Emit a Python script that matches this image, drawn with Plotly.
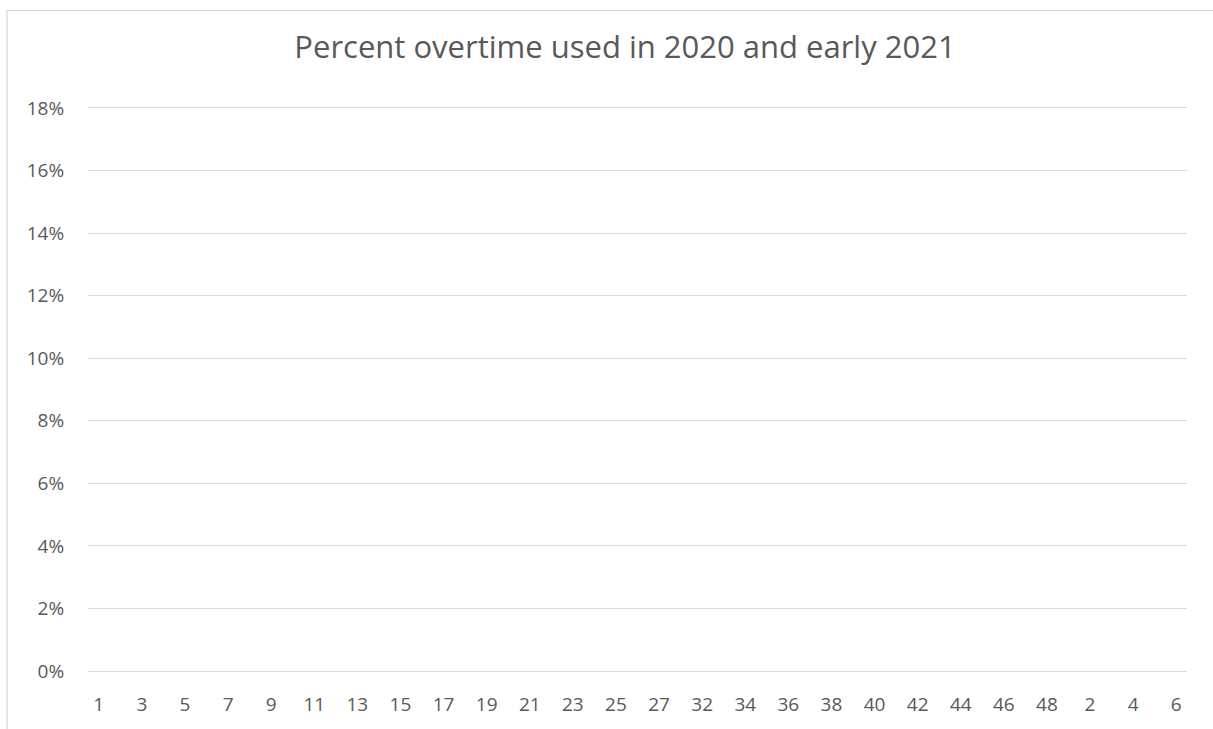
import plotly.graph_objects as go

# Week numbers: 2020 weeks followed by early 2021 weeks
weeks = [str(w) for w in range(1, 28)] + ["31"] + [str(w) for w in range(32, 49)] + [str(w) for w in range(1, 7)]
# Percent overtime per week (no values recorded)
overtime_pct = [None] * len(weeks)
# Axis ticks
y_ticks = [0, 0.02, 0.04, 0.06, 0.08, 0.10, 0.12, 0.14, 0.16, 0.18]

positions = list(range(len(weeks)))
label_pos = positions[::2]
label_txt = weeks[::2]

W, H = 1213, 729
ML, MR, MT, MB = 88, 26, 108, 56
pw, ph = W - ML - MR, H - MT - MB

fig = go.Figure()
fig.add_trace(go.Scatter(x=positions, y=overtime_pct, mode="lines",
                         line=dict(color="#4472c4", width=2.25),
                         name="Percent overtime", showlegend=False))

grey = "#595959"
grid = "#d9d9d9"
fig.update_layout(
    width=W, height=H,
    margin=dict(l=ML, r=MR, t=MT, b=MB),
    paper_bgcolor="white", plot_bgcolor="white",
    font=dict(family="Open Sans, Liberation Sans, sans-serif", color=grey, size=19),
    title=dict(text="Percent overtime used in 2020 and early 2021",
               x=625 / W, xanchor="center", y=1 - 47 / H, yanchor="middle",
               font=dict(size=31, color=grey)),
    # bottom (0%) and top (18%) rules come from the mirrored x-axis line
    xaxis=dict(range=[-0.5, len(weeks) - 0.5], tickmode="array",
               tickvals=label_pos, ticktext=label_txt,
               showgrid=False, zeroline=False,
               showline=True, mirror=True, linecolor=grid, linewidth=1.3,
               ticks="outside", ticklen=16, tickcolor="rgba(0,0,0,0)",
               tickfont=dict(size=19, color=grey)),
    yaxis=dict(range=[0, 0.18], tickvals=y_ticks, tickformat=".0%",
               showgrid=True, gridcolor=grid, gridwidth=1.3,
               zeroline=False, showline=False, ticks="outside", ticklen=19,
               tickcolor="rgba(0,0,0,0)", tickfont=dict(size=19, color=grey)),
    shapes=[dict(type="rect", xref="paper", yref="paper",
                 x0=(7 - ML) / pw, x1=(W + 20 - ML) / pw,
                 y0=(H - MB - (H + 20)) / ph, y1=(H - MB - 10) / ph,
                 line=dict(color=grid, width=1.3), fillcolor="rgba(0,0,0,0)",
                 layer="below")],
)

fig.write_html("out.html")
